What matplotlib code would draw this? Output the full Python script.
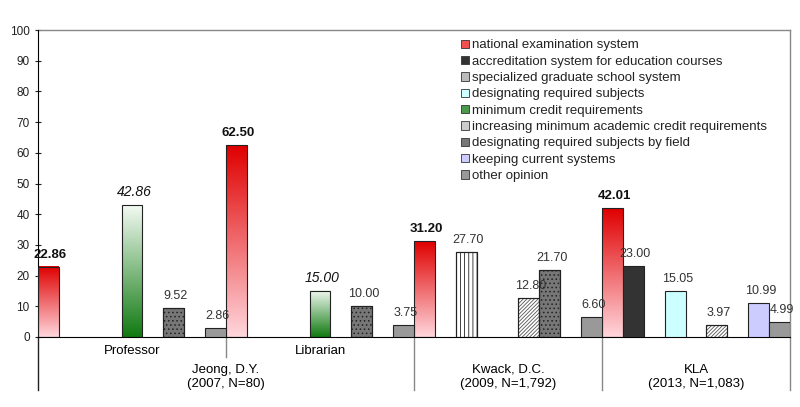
import numpy as np
import matplotlib.pyplot as plt
from matplotlib.patches import Patch
from matplotlib.colors import to_rgb

plt.rcParams['font.family'] = ['Liberation Sans', 'DejaVu Sans']
plt.rcParams['hatch.linewidth'] = 0.6

# data
categories = [
    "national examination system",
    "accreditation system for education courses",
    "specialized graduate school system",
    "designating required subjects",
    "minimum credit requirements",
    "increasing minimum academic credit requirements",
    "designating required subjects by field",
    "keeping current systems",
    "other opinion",
]
groups = ["Professor", "Librarian", "Kwack", "KLA"]

national = [22.86, 62.50, 31.20, 42.01]
accreditation = [None, None, None, 23.00]
specialized = [None, None, 27.70, None]
designating = [None, None, None, 15.05]
min_credit = [42.86, 15.00, None, None]
increasing = [None, None, 12.80, 3.97]
by_field = [9.52, 10.00, 21.70, None]
keeping = [None, None, None, 10.99]
other = [2.86, 3.75, 6.60, 4.99]

series = [national, accreditation, specialized, designating, min_credit,
          increasing, by_field, keeping, other]

# styles per category: facecolor, hatch, gradient (top, bottom), legend colour
styles = [
    dict(fc="#f03030", hatch=None, ec="#222222", grad=("#e00000", "#ffd6dc"), leg="#f05050"),
    dict(fc="#333333", hatch=None, ec="#222222", grad=None, leg="#333333"),
    dict(fc="white", hatch="||||", ec="#222222", grad=None, leg="#bbbbbb"),
    dict(fc="#ccffff", hatch=None, ec="#222222", grad=None, leg="#ccffff"),
    dict(fc="#2e8b2e", hatch=None, ec="#222222", grad=("#f2faf2", "#117a11"), leg="#4a9a4a"),
    dict(fc="white", hatch="/////////", ec="#555555", grad=None, leg="#cccccc"),
    dict(fc="#777777", hatch="....", ec="#222222", grad=None, leg="#777777"),
    dict(fc="#ccccff", hatch=None, ec="#222222", grad=None, leg="#ccccff"),
    dict(fc="#999999", hatch=None, ec="#222222", grad=None, leg="#999999"),
]

fig = plt.figure(figsize=(8, 4.07), dpi=100)
ax = fig.add_axes([0.0475, 0.172, 0.94, 0.754])

n = len(categories)
for c, vals in enumerate(series):
    st = styles[c]
    for g, v in enumerate(vals):
        if v is None:
            continue
        x = g * n + c
        if st["grad"] is not None:
            ax.bar(x + 0.5, v, width=1, color="none", edgecolor=st["ec"],
                   linewidth=0.8, zorder=3)
            top = np.array(to_rgb(st["grad"][0]))
            bot = np.array(to_rgb(st["grad"][1]))
            t = np.linspace(0, 1, 100)[:, None]
            img = (top * (1 - t) + bot * t)[:, None, :]
            ax.imshow(img, extent=(x, x + 1, 0, v), aspect="auto", zorder=2,
                      origin="upper")
        else:
            ax.bar(x + 0.5, v, width=1, color=st["fc"], hatch=st["hatch"],
                   edgecolor=st["ec"], linewidth=0.8, zorder=3)
            if st["hatch"] is not None:
                ax.bar(x + 0.5, v, width=1, color="none", edgecolor="#222222",
                       linewidth=0.8, zorder=3)
        if c == 0:
            kw = dict(fontweight="bold", color="#111111", fontsize=9.5)
        elif c == 4:
            kw = dict(fontstyle="italic", color="#111111", fontsize=10)
        else:
            kw = dict(color="#333333", fontsize=9)
        ax.text(x + 0.6, v + 2, f"{v:.2f}", ha="center", va="bottom", zorder=4, **kw)

ax.set_xlim(0, n * len(groups))
ax.set_ylim(0, 100)
ax.set_yticks(range(0, 101, 10))
ax.tick_params(axis="y", direction="inout", length=5, labelsize=8.5, colors="#222222")
ax.set_xticks([])
for s in ["top", "right"]:
    ax.spines[s].set_visible(False)
ax.spines["left"].set_bounds(0, 100)

tr = ax.get_xaxis_transform()
# top and right border
ax.plot([0, 36], [1, 1], transform=tr, color="#888888", lw=1, clip_on=False)
ax.plot([36, 36], [1, -0.173], transform=tr, color="#888888", lw=1, clip_on=False)
# group dividers
ax.plot([0, 0], [0, -0.173], transform=tr, color="#222222", lw=1, clip_on=False)
for xd in [18, 27]:
    ax.plot([xd, xd], [0, -0.173], transform=tr, color="#888888", lw=1, clip_on=False)
ax.plot([9, 9], [0, -0.065], transform=tr, color="#888888", lw=1, clip_on=False)

# category labels
ax.text(4.5, -0.046, "Professor", transform=tr, ha="center", va="center", fontsize=9.5)
ax.text(13.5, -0.046, "Librarian", transform=tr, ha="center", va="center", fontsize=9.5)
study_labels = ["Jeong, D.Y.\n(2007, N=80)", "Kwack, D.C.\n(2009, N=1,792)",
                "KLA\n(2013, N=1,083)"]
for xc, lab in zip([9, 22.5, 31.5], study_labels):
    ax.text(xc, -0.13, lab, transform=tr, ha="center", va="center", fontsize=9.5,
            linespacing=1.2)

handles = [Patch(facecolor=st["leg"], edgecolor="#333333", linewidth=0.6)
           for st in styles]
ax.legend(handles, categories, loc="upper left", bbox_to_anchor=(0.55, 1.0),
          frameon=False, fontsize=9.5, handlelength=0.6, handleheight=0.6,
          handletextpad=0.25, labelspacing=0.33, borderaxespad=0.3,
          labelcolor="#222222")

fig.savefig("out.png", dpi=100)
